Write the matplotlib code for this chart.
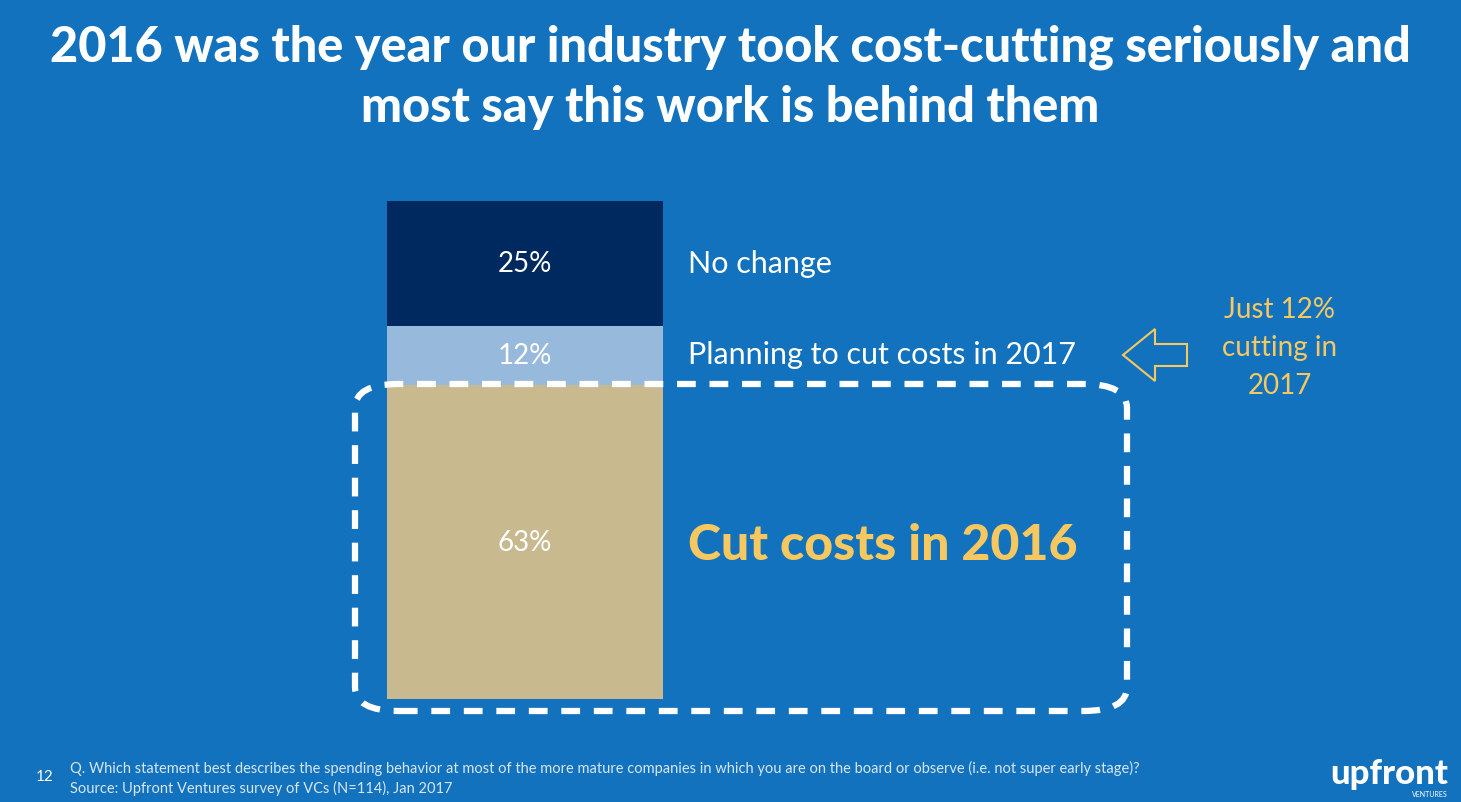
import matplotlib
matplotlib.use("Agg")
import matplotlib.pyplot as plt
from matplotlib.patches import FancyBboxPatch, Polygon

categories = ["Cut costs in 2016", "Planning to cut costs in 2017", "No change"]
values = [63, 12, 25]
colors = ["#C8B98E", "#97B9DC", "#002960"]
labels = ["63%", "12%", "25%"]

BG = "#1272BE"
YEL = "#F8C860"
W, H = 1461, 803
fig = plt.figure(figsize=(W/100, H/100), dpi=100, facecolor=BG)
plt.rcParams['font.family'] = ['Lato', 'DejaVu Sans']

def fx(x): return x / W
def fy(y): return 1 - y / H

ax = fig.add_axes([fx(387), fy(700), (663-387)/W, (700-202)/H])
ax.set_facecolor(BG)
bottom = 0
for v, c, l in zip(values, colors, labels):
    ax.bar(0.5, v, width=1, bottom=bottom, color=c)
    ax.text(0.5, bottom + v/2, l, ha="center", va="center", color="white", fontsize=20)
    bottom += v
ax.set_xlim(0, 1); ax.set_ylim(0, 100); ax.axis("off")

fig.text(0.5, fy(47), "2016 was the year our industry took cost-cutting seriously and",
         ha="center", va="center", color="white", fontsize=35, fontweight="black")
fig.text(0.5, fy(107), "most say this work is behind them",
         ha="center", va="center", color="white", fontsize=35, fontweight="black")

fig.text(fx(688), fy(264), "No change", color="white", fontsize=22, va="center")
fig.text(fx(688), fy(355), "Planning to cut costs in 2017", color="white", fontsize=22, va="center")
fig.text(fx(688), fy(545), "Cut costs in 2016", color=YEL, fontsize=36, fontweight="black", va="center")
fig.text(fx(1280), fy(348), "Just 12%\ncutting in\n2017", color=YEL, fontsize=20, ha="center",
         va="center", linespacing=1.55)

box = FancyBboxPatch((fx(355), fy(712)), (1127-355)/W, (712-385)/H,
                     boxstyle="round,pad=0,rounding_size=0.03", transform=fig.transFigure,
                     fill=False, ec="white", lw=4.5, ls=(0, (3, 2.2)))
fig.add_artist(box)

pts = [(1123, 356), (1155, 330), (1155, 345), (1187, 345), (1187, 367), (1155, 367), (1155, 382)]
arrow = Polygon([(fx(x), fy(y)) for x, y in pts], closed=True, fill=False, ec=YEL, lw=1.5,
                transform=fig.transFigure)
fig.add_artist(arrow)

fig.text(fx(36), fy(777), "12", color="white", fontsize=11, va="center")
fig.text(fx(70), fy(768), "Q. Which statement best describes the spending behavior at most of the more mature companies in which you are on the board or observe (i.e. not super early stage)?",
         color="#D8E6F3", fontsize=10.5, va="center")
fig.text(fx(70), fy(788), "Source: Upfront Ventures survey of VCs (N=114), Jan 2017",
         color="#D8E6F3", fontsize=10.5, va="center")
fig.text(fx(1448), fy(774), "upfront", color="white", fontsize=25, fontweight="black", ha="right", va="center")
fig.text(fx(1448), fy(795), "VENTURES", color="white", fontsize=5, ha="right", va="center")

fig.savefig("out.png", dpi=100, facecolor=BG)
